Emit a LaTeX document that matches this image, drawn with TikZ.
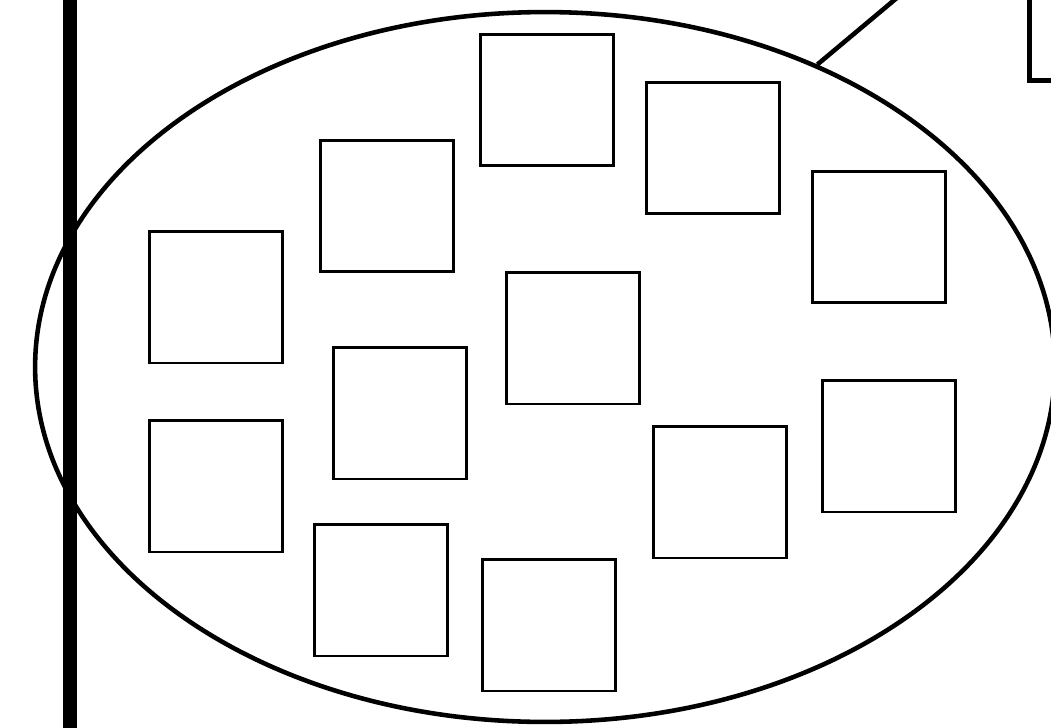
\documentclass[tikz,border=0pt]{standalone}
\usetikzlibrary{shapes.geometric}

\begin{document}
\begin{tikzpicture}
    [
        x=0.02cm, y=-0.02cm,
        cell/.style={draw, rectangle, inner sep=0pt, line width=1.7pt,
            minimum width=2.66cm, minimum height=2.64cm},
        blob/.style={draw, ellipse, inner sep=0pt, line width=2.6pt,
            minimum width=20.4cm, minimum height=14.2cm},
        frame/.style={draw, rectangle, inner sep=0pt, line width=3pt,
            minimum width=3cm, minimum height=3cm}
    ]
        \useasboundingbox (0,0) rectangle (1051,727);
        \clip (0,0) rectangle (1051,727);
        % =========================================================================
        % NODES
        % =========================================================================
        % --- outline ---
        \node [blob] (region) at (545,367) {};
        \node [frame, anchor=south west] (box) at (1027,83) {};
        % --- cells, left to right ---
        \node [cell] (c1) at (216,297) {};
        \node [cell] (c2) at (216,486) {};
        \node [cell] (c3) at (387,206) {};
        \node [cell] (c4) at (400,413) {};
        \node [cell] (c5) at (381,590) {};
        \node [cell] (c6) at (547,100) {};
        \node [cell] (c7) at (573,338) {};
        \node [cell] (c8) at (549,625) {};
        \node [cell] (c9) at (713,148) {};
        \node [cell] (c10) at (720,492) {};
        \node [cell] (c11) at (879,237) {};
        \node [cell] (c12) at (889,446) {};
        % --- free ends ---
        \coordinate (top) at (70,-20);
        \coordinate (bottom) at (70,747);
        \coordinate (lead) at (960,-55);

        % =========================================================================
        % PATHS
        % =========================================================================
        \draw [line width=8pt] (top) -- (bottom);
        \draw [line width=2.6pt] (region.48.6) -- (lead);

    \end{tikzpicture}
\end{document}
